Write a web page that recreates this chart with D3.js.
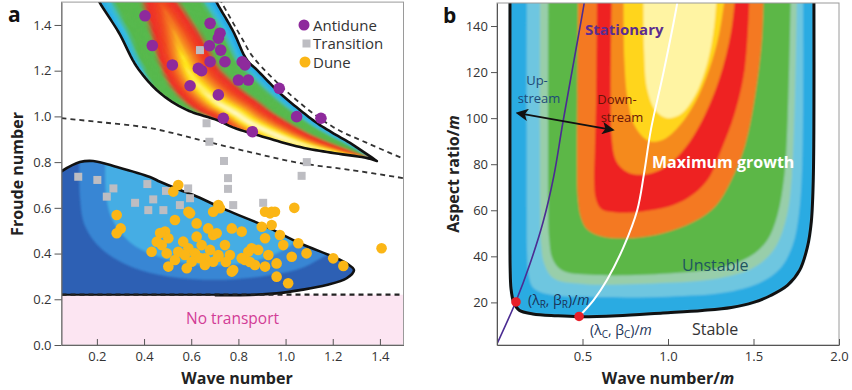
<!DOCTYPE html>
<html><head><meta charset="utf-8">
<script src="https://cdn.jsdelivr.net/npm/d3@7"></script>
<style>
body{margin:0;background:#fff}
svg{display:block}
text{font-family:"Open Sans","Noto Sans",sans-serif}
</style>
</head><body>
<svg id="c" width="852" height="390"></svg>
<script>
// ---------------- Panel a data ----------------
const aXTicks=[0.2,0.4,0.6,0.8,1.0,1.2,1.4];
const aYTicks=[0,0.2,0.4,0.6,0.8,1.0,1.2,1.4];
const legendNames=["Antidune","Transition","Dune"];
const antidune=[[0.404,1.44],[0.435,1.31],[0.52,1.225],[0.595,1.134],[0.68,1.407],[0.722,1.364],[0.715,1.342],[0.677,1.309],[0.725,1.29],[0.68,1.239],[0.743,1.239],[0.63,1.21],[0.644,1.20],[0.816,1.239],[0.828,1.225],[0.8,1.159],[0.842,1.159],[0.715,1.094],[0.736,0.992],[0.859,0.933],[0.973,1.123],[1.047,0.999],[1.15,0.992]];
const transition=[[0.637,1.29],[0.665,0.97],[0.677,0.889],[0.739,0.805],[0.756,0.73],[0.756,0.683],[0.778,0.612],[1.09,0.80],[1.068,0.74],[0.905,0.622],[0.121,0.736],[0.202,0.722],[0.27,0.685],[0.242,0.649],[0.414,0.704],[0.493,0.674],[0.362,0.622],[0.439,0.637],[0.418,0.59],[0.482,0.59],[0.552,0.612],[0.587,0.685],[0.595,0.642]];
const dune=[[0.284,0.569],[0.301,0.51],[0.284,0.489],[0.432,0.408],[0.503,0.343],[0.581,0.336],[0.545,0.70],[0.524,0.671],[0.531,0.547],[0.588,0.583],[0.623,0.532],[0.693,0.583],[0.722,0.598],[0.489,0.496],[0.503,0.467],[0.475,0.437],[0.496,0.401],[0.566,0.452],[0.623,0.474],[0.672,0.51],[0.693,0.481],[0.545,0.408],[0.588,0.423],[0.616,0.401],[0.644,0.437],[0.602,0.364],[0.658,0.379],[0.68,0.416],[0.715,0.394],[0.658,0.35],[0.693,0.364],[0.715,0.612],[0.941,0.583],[0.913,0.583],[1.037,0.60],[0.772,0.51],[0.814,0.496],[0.708,0.489],[0.899,0.517],[0.941,0.525],[0.913,0.467],[0.976,0.481],[0.99,0.437],[1.054,0.445],[1.089,0.401],[1.026,0.386],[0.962,0.357],[0.913,0.343],[0.87,0.35],[0.842,0.408],[0.828,0.372],[0.764,0.394],[0.715,0.386],[0.772,0.321],[0.962,0.299],[1.011,0.27],[0.884,0.416],[0.856,0.423],[0.927,0.394],[1.202,0.379],[1.245,0.346],[1.407,0.423],[0.595,0.576],[0.934,0.576],[0.955,0.583],[0.454,0.452],[0.468,0.49],[0.778,0.328],[0.814,0.38],[0.849,0.363],[0.743,0.437],[0.747,0.363],[0.637,0.38],[0.573,0.394],[0.531,0.372]];
// antidune (upper) unstable region edges
const bananaInnerEdge=[[0.188,1.545],[0.213,1.496],[0.294,1.365],[0.37,1.216],[0.468,1.102],[0.582,1.028],[0.709,0.984],[0.777,0.952],[0.921,0.906],[1.061,0.866],[1.201,0.84],[1.345,0.818],[1.387,0.805]];
const bananaOuterEdge=[[0.684,1.545],[0.709,1.496],[0.777,1.374],[0.836,1.247],[0.879,1.203],[0.976,1.102],[1.061,1.028],[1.133,0.971],[1.201,0.927],[1.273,0.884],[1.33,0.845],[1.387,0.805]];
// growth-rate profile across the band (0 = inner edge, 1 = outer edge), along the band s
const bananaS=[0,0.25,0.5,0.7,0.85,1];
const bananaPeakPos=[0.55,0.45,0.3,0.18,0.12,0.12];
const bananaPeak=[0.6,0.88,1.0,1.0,0.95,0.8];
const bananaInnerVal=[0,0.05,0.4,0.88,0.86,0.75];
const growthStops=[0,0.1,0.18,0.42,0.5,0.62,0.75,0.87,1.0];
const growthColors=["#1f9fe0","#33bde8","#55b84a","#55b84a","#ee2a24","#f0421f","#f68a1e","#ffe617","#fffbd8"];
// dune (lower) unstable region
const duneEdge=[[0.03,0.745],[0.05,0.76],[0.128,0.80],[0.184,0.805],[0.285,0.779],[0.425,0.735],[0.468,0.714],[0.552,0.678],[0.609,0.656],[0.75,0.59],[0.92,0.517],[1.061,0.445],[1.202,0.386],[1.259,0.357],[1.29,0.328],[1.259,0.292],[1.174,0.262],[1.061,0.24],[0.962,0.226],[0.85,0.219],[0.7,0.218]];
const duneMid=[[0.128,0.95],[0.128,0.65],[0.15,0.52],[0.22,0.42],[0.35,0.34],[0.5,0.30],[0.7,0.285],[0.9,0.30],[1.05,0.33],[1.15,0.38],[1.22,0.43],[1.25,0.95]];
const duneLight=[[0.24,0.95],[0.24,0.65],[0.27,0.54],[0.34,0.45],[0.45,0.39],[0.6,0.355],[0.75,0.35],[0.88,0.37],[0.98,0.41],[1.04,0.46],[1.08,0.95]];
const duneColors=["#2d60b4","#3786d4","#45ade4"];
const noTransportFr=0.22;
const dashUpper=[[0.70,1.55],[0.73,1.496],[0.819,1.334],[0.862,1.26],[1.031,1.085],[1.201,0.954],[1.345,0.884],[1.5,0.815]];
const dashMiddle=[[0.05,0.992],[0.213,0.975],[0.425,0.949],[0.637,0.897],[0.849,0.844],[1.061,0.796],[1.273,0.766],[1.5,0.73]];

// ---------------- Panel b data ----------------
const bXTicks=[0.5,1.0,1.5,2.0];
const bYTicks=[20,40,60,80,100,120,140];
const bBoundary=[[0.076,160],[0.076,60],[0.077,35],[0.082,26],[0.098,20],[0.13,16.6],[0.21,15],[0.35,14.2],[0.48,13.8],[0.7,14.2],[0.97,15.4],[1.2,16.5],[1.37,17.8],[1.5,20],[1.6,23],[1.7,27.5],[1.77,34],[1.815,44],[1.838,55],[1.85,75],[1.853,160]];
const bLevels=[
 [[0.174,160],[0.174,60],[0.176,42],[0.185,32],[0.21,26.5],[0.3,23.5],[0.6,22.3],[1.0,22.5],[1.35,24.5],[1.55,29],[1.66,35],[1.73,45],[1.765,58],[1.785,80],[1.79,160]],
 [[0.252,160],[0.252,60],[0.258,45],[0.275,37],[0.33,30.5],[0.5,28],[1.0,28.5],[1.3,30.5],[1.5,35],[1.62,43],[1.69,56],[1.725,75],[1.755,160]],
 [[0.30,160],[0.30,65],[0.305,48],[0.325,39],[0.38,34],[0.55,32],[1.0,32.5],[1.3,35],[1.48,40],[1.58,47],[1.64,58],[1.68,75],[1.70,100],[1.72,160]],
 [[0.475,160],[0.47,110],[0.468,80],[0.472,66],[0.49,57],[0.53,51.5],[0.62,48.5],[0.8,48],[0.97,50],[1.15,55],[1.28,62],[1.37,73],[1.45,88],[1.51,110],[1.55,135],[1.56,160]],
 [[0.585,160],[0.58,110],[0.572,85],[0.568,73],[0.578,65],[0.61,60.5],[0.7,59],[0.85,59.5],[1.0,61.5],[1.12,65.5],[1.23,73],[1.31,86],[1.39,102],[1.45,122],[1.48,160]],
 [[0.672,160],[0.665,110],[0.67,92],[0.7,81],[0.78,76],[0.9,76],[1.0,79.5],[1.1,87],[1.2,99],[1.3,117],[1.37,138],[1.40,160]],
 [[0.74,160],[0.745,125],[0.765,108],[0.81,96],[0.89,90],[0.98,91],[1.07,97],[1.16,107],[1.24,121],[1.3,137],[1.345,160]],
 [[0.857,160],[0.86,130],[0.88,112],[0.93,103],[1.0,100],[1.08,102],[1.16,110],[1.23,124],[1.27,140],[1.29,160]]
];
const bColors=["#29abe2","#6ec6e0","#98ceaa","#5cb747","#f47920","#ee2324","#f58a1f","#ffd51a","#fff4a3"];
const stationary=[[0,2],[0.11,20.3],[0.194,37],[0.27,55],[0.33,74],[0.385,98],[0.45,125],[0.51,150],[0.515,153]];
const maxGrowth=[[0.48,13.9],[0.565,21],[0.643,29.7],[0.741,44.2],[0.82,60],[0.86,76],[0.9,95],[0.974,120],[1.054,150],[1.06,153]];
const pointR=[0.111,20.2];
const pointC=[0.48,13.9];
const arrowEnds=[[0.123,102.2],[0.674,94.9]];

// ---------------- setup ----------------
const svg=d3.select("#c");
const defs=svg.append("defs");
const xa=d3.scaleLinear().domain([0.05,1.5]).range([61.5,403.5]);
const ya=d3.scaleLinear().domain([0,1.5]).range([345,2.1]);
const xb=d3.scaleLinear().domain([0,2]).range([497,839]);
const yb=d3.scaleLinear().domain([1.5,150]).range([345,3]);
const lineA=d3.line().x(d=>xa(d[0])).y(d=>ya(d[1])).curve(d3.curveCatmullRom.alpha(0.5));
const lineB=d3.line().x(d=>xb(d[0])).y(d=>yb(d[1])).curve(d3.curveCatmullRom.alpha(0.5));

defs.append("clipPath").attr("id","clipA").append("rect").attr("x",61.5).attr("y",2.1).attr("width",342).attr("height",342.9);
defs.append("clipPath").attr("id","clipB").append("rect").attr("x",497).attr("y",3).attr("width",342).attr("height",342);
const flt=defs.append("filter").attr("id","blur").attr("x","-5%").attr("y","-5%").attr("width","110%").attr("height","110%");
flt.append("feGaussianBlur").attr("stdDeviation",1.3);
const flt2=defs.append("filter").attr("id","blur2").attr("x","-5%").attr("y","-5%").attr("width","110%").attr("height","110%");
flt2.append("feGaussianBlur").attr("stdDeviation",0.8);
const mk=defs.append("marker").attr("id","ah").attr("viewBox","0 0 10 10").attr("refX",8).attr("refY",5)
  .attr("markerWidth",7).attr("markerHeight",7).attr("orient","auto-start-reverse");
mk.append("path").attr("d","M0,0L10,5L0,10L2.5,5Z").attr("fill","#111");

// ================= PANEL A =================
const gA=svg.append("g").attr("clip-path","url(#clipA)");
gA.append("rect").attr("x",xa(0.05)).attr("y",ya(noTransportFr)).attr("width",xa(1.5)-xa(0.05))
  .attr("height",ya(0)-ya(noTransportFr)).attr("fill","#fce5f2");

const duneD=lineA(duneEdge)+"L"+xa(0.03)+","+ya(noTransportFr)+"Z";
defs.append("clipPath").attr("id","duneClip").append("path").attr("d",duneD);
gA.append("path").attr("d",duneD).attr("fill",duneColors[0]);
const gD=gA.append("g").attr("clip-path","url(#duneClip)").append("g").attr("filter","url(#blur)");
gD.append("path").attr("d",lineA(duneMid)+"Z").attr("fill",duneColors[1]);
gD.append("path").attr("d",lineA(duneLight)+"Z").attr("fill",duneColors[2]);

const tmp=svg.append("g");
function resample(d,n){const p=tmp.append("path").attr("d",d).node();const L=p.getTotalLength();
  const r=d3.range(n+1).map(i=>{const q=p.getPointAtLength(L*i/n);return [q.x,q.y];});p.remove();return r;}
const NS=90,NT=30;
const inPx=resample(lineA(bananaInnerEdge),NS), outPx=resample(lineA(bananaOuterEdge),NS);
const bananaD="M"+inPx.join("L")+"L"+outPx.slice().reverse().join("L")+"Z";
defs.append("clipPath").attr("id","banClip").append("path").attr("d",bananaD);
const pPos=d3.scaleLinear().domain(bananaS).range(bananaPeakPos);
const pVal=d3.scaleLinear().domain(bananaS).range(bananaPeak);
const pIn=d3.scaleLinear().domain(bananaS).range(bananaInnerVal);
const gcol=d3.scaleLinear().domain(growthStops).range(growthColors).clamp(true);
function val(s,t){const p=pPos(s),v=pVal(s),e=pIn(s);return t<p? e+(v-e)*(t/p) : v*(1-t)/(1-p);}
const cells=[];
for(let i=0;i<NS;i++)for(let j=0;j<NT;j++){
  const P=(k,t)=>[inPx[k][0]+t*(outPx[k][0]-inPx[k][0]),inPx[k][1]+t*(outPx[k][1]-inPx[k][1])];
  const t0=j/NT,t1=(j+1)/NT;
  cells.push({pts:[P(i,t0),P(i+1,t0),P(i+1,t1),P(i,t1)],c:gcol(val((i+0.5)/NS,(j+0.5)/NT))});
}
const gBan=gA.append("g").attr("clip-path","url(#banClip)").append("g").attr("filter","url(#blur)");
gBan.selectAll("path").data(cells).join("path").attr("d",d=>"M"+d.pts.join("L")+"Z")
  .attr("fill",d=>d.c).attr("stroke",d=>d.c).attr("stroke-width",0.7);

gA.append("path").attr("d",bananaD).attr("fill","none").attr("stroke","#111").attr("stroke-width",2.6).attr("stroke-linejoin","round");
gA.append("path").attr("d",lineA(duneEdge)).attr("fill","none").attr("stroke","#111").attr("stroke-width",2.6);
gA.append("line").attr("x1",xa(0.05)).attr("x2",xa(0.85)).attr("y1",ya(noTransportFr)).attr("y2",ya(noTransportFr))
  .attr("stroke","#111").attr("stroke-width",2);
gA.append("path").attr("d",lineA(dashUpper)).attr("fill","none").attr("stroke","#333").attr("stroke-width",1.8).attr("stroke-dasharray","5,4");
gA.append("path").attr("d",lineA(dashMiddle)).attr("fill","none").attr("stroke","#333").attr("stroke-width",1.8).attr("stroke-dasharray","5,4");
gA.append("line").attr("x1",xa(0.05)).attr("x2",xa(1.5)).attr("y1",ya(noTransportFr)).attr("y2",ya(noTransportFr))
  .attr("stroke","#222").attr("stroke-width",2.2).attr("stroke-dasharray","5,4");

gA.selectAll("rect.tr").data(transition).join("rect").attr("class","tr")
  .attr("x",d=>xa(d[0])-4).attr("y",d=>ya(d[1])-4).attr("width",8).attr("height",8).attr("fill","#bdbdc2");
gA.selectAll("circle.du").data(dune).join("circle").attr("class","du")
  .attr("cx",d=>xa(d[0])).attr("cy",d=>ya(d[1])).attr("r",5.3).attr("fill","#fbb616");
gA.selectAll("circle.an").data(antidune).join("circle").attr("class","an")
  .attr("cx",d=>xa(d[0])).attr("cy",d=>ya(d[1])).attr("r",5.8).attr("fill","#8e2a9c");

gA.append("text").attr("x",232.5).attr("y",324).attr("text-anchor","middle").attr("font-size",15.5)
  .attr("fill","#d23c96").text("No transport");

const lg=svg.append("g");
lg.append("circle").attr("cx",304).attr("cy",25).attr("r",5.5).attr("fill","#8e2a9c");
lg.append("rect").attr("x",302.5).attr("y",39.5).attr("width",8).attr("height",8).attr("fill","#bdbdc2");
lg.append("circle").attr("cx",305).attr("cy",62).attr("r",5.5).attr("fill","#fbb616");
legendNames.forEach((n,i)=>lg.append("text").attr("x",313).attr("y",30.5+i*18.7).attr("font-size",15).attr("fill","#333").text(n));

svg.append("rect").attr("x",61.5).attr("y",2.1).attr("width",342).attr("height",342.9).attr("fill","none").attr("stroke","#9a9a9a");
const axA=svg.append("g").attr("transform","translate(0,345)")
  .call(d3.axisBottom(xa).tickValues(aXTicks).tickFormat(d3.format(".1f")).tickSizeInner(-6).tickSizeOuter(0).tickPadding(7));
const ayA=svg.append("g").attr("transform","translate(61.5,0)")
  .call(d3.axisLeft(ya).tickValues(aYTicks).tickFormat(d3.format(".1f")).tickSizeInner(7).tickSizeOuter(0).tickPadding(3));
[axA,ayA].forEach(g=>{g.select(".domain").attr("stroke","#666");g.selectAll(".tick line").attr("stroke","#555");
  g.selectAll("text").attr("font-size",13).attr("fill","#333").attr("font-family","Open Sans, sans-serif");});
svg.append("text").attr("x",237).attr("y",384).attr("text-anchor","middle").attr("font-size",16).attr("font-weight","bold").attr("fill","#222").text("Wave number");
svg.append("text").attr("transform","translate(23,174) rotate(-90)").attr("text-anchor","middle").attr("font-size",16).attr("font-weight","bold").attr("fill","#222").text("Froude number");
svg.append("text").attr("x",8).attr("y",22).attr("font-size",21).attr("font-weight","bold").attr("fill","#111").text("a");

// ================= PANEL B =================
const gB=svg.append("g").attr("clip-path","url(#clipB)");
const gBf=gB.append("g").attr("filter","url(#blur2)");
gBf.append("path").attr("d",lineB(bBoundary)+"Z").attr("fill",bColors[0]);
defs.append("clipPath").attr("id","bndClip").append("path").attr("d",lineB(bBoundary)+"Z");
const gBl=gBf.append("g").attr("clip-path","url(#bndClip)");
bLevels.forEach((lv,i)=>gBl.append("path").attr("d",lineB(lv)+"Z").attr("fill",bColors[i+1]));
gB.append("path").attr("d",lineB(bBoundary)).attr("fill","none").attr("stroke","#111").attr("stroke-width",3);
gB.append("path").attr("d",lineB(stationary)).attr("fill","none").attr("stroke","#4b2c92").attr("stroke-width",1.6);
gB.append("path").attr("d",lineB(maxGrowth)).attr("fill","none").attr("stroke","#fff").attr("stroke-width",2);
gB.append("line").attr("x1",xb(arrowEnds[0][0])).attr("y1",yb(arrowEnds[0][1])).attr("x2",xb(arrowEnds[1][0])).attr("y2",yb(arrowEnds[1][1]))
  .attr("stroke","#111").attr("stroke-width",1.8).attr("marker-start","url(#ah)").attr("marker-end","url(#ah)");
[pointR,pointC].forEach(p=>gB.append("circle").attr("cx",xb(p[0])).attr("cy",yb(p[1])).attr("r",4.8).attr("fill","#e8202a"));

svg.append("text").attr("x",585).attr("y",35).attr("font-size",15).attr("font-weight","bold").attr("fill","#5b2d90").text("Stationary");
function twoLine(x1,x2,y,l1,l2,col){const t=svg.append("text").attr("y",y).attr("font-size",13).attr("text-anchor","middle").attr("fill",col);
  t.append("tspan").attr("x",x1).text(l1);t.append("tspan").attr("x",x2).attr("dy",18).text(l2);}
twoLine(537,539,85,"Up-","stream","#1d4a78");
twoLine(617,622,104,"Down-","stream","#6a1408");
svg.append("text").attr("x",652).attr("y",168).attr("font-size",16).attr("font-weight","bold").attr("fill","#fff").text("Maximum growth");
svg.append("text").attr("x",682).attr("y",271).attr("font-size",16).attr("fill","#1e5560").text("Unstable");
svg.append("text").attr("x",692).attr("y",335).attr("font-size",16).attr("fill","#333").text("Stable");
function subLabel(x,y,s){const t=svg.append("text").attr("x",x).attr("y",y).attr("font-size",14).attr("fill","#1a3358");
  t.append("tspan").text("(λ");t.append("tspan").attr("font-size",10).attr("dy",3).text(s);
  t.append("tspan").attr("dy",-3).text(", β");t.append("tspan").attr("font-size",10).attr("dy",3).text(s);
  t.append("tspan").attr("dy",-3).text(")/");t.append("tspan").attr("font-style","italic").text("m");}
subLabel(528,305,"R");
subLabel(590,335,"C");

svg.append("rect").attr("x",497).attr("y",3).attr("width",342).attr("height",342).attr("fill","none").attr("stroke","#9a9a9a");
const axB=svg.append("g").attr("transform","translate(0,345)")
  .call(d3.axisBottom(xb).tickValues(bXTicks).tickFormat(d3.format(".1f")).tickSizeInner(-6).tickSizeOuter(0).tickPadding(7));
const ayB=svg.append("g").attr("transform","translate(497,0)")
  .call(d3.axisLeft(yb).tickValues(bYTicks).tickFormat(d3.format("d")).tickSizeInner(6).tickSizeOuter(0).tickPadding(3));
[axB,ayB].forEach(g=>{g.select(".domain").attr("stroke","#555");g.selectAll(".tick line").attr("stroke","#555");
  g.selectAll("text").attr("font-size",13).attr("fill","#333").attr("font-family","Open Sans, sans-serif");});
const xtB=svg.append("text").attr("x",668).attr("y",384).attr("text-anchor","middle").attr("font-size",16).attr("font-weight","bold").attr("fill","#222");
xtB.append("tspan").text("Wave number/");xtB.append("tspan").attr("font-style","italic").text("m");
const ytB=svg.append("text").attr("transform","translate(459,174) rotate(-90)").attr("text-anchor","middle").attr("font-size",16).attr("font-weight","bold").attr("fill","#222");
ytB.append("tspan").text("Aspect ratio/");ytB.append("tspan").attr("font-style","italic").text("m");
svg.append("text").attr("x",443).attr("y",23).attr("font-size",21).attr("font-weight","bold").attr("fill","#111").text("b");
</script>
</body></html>
